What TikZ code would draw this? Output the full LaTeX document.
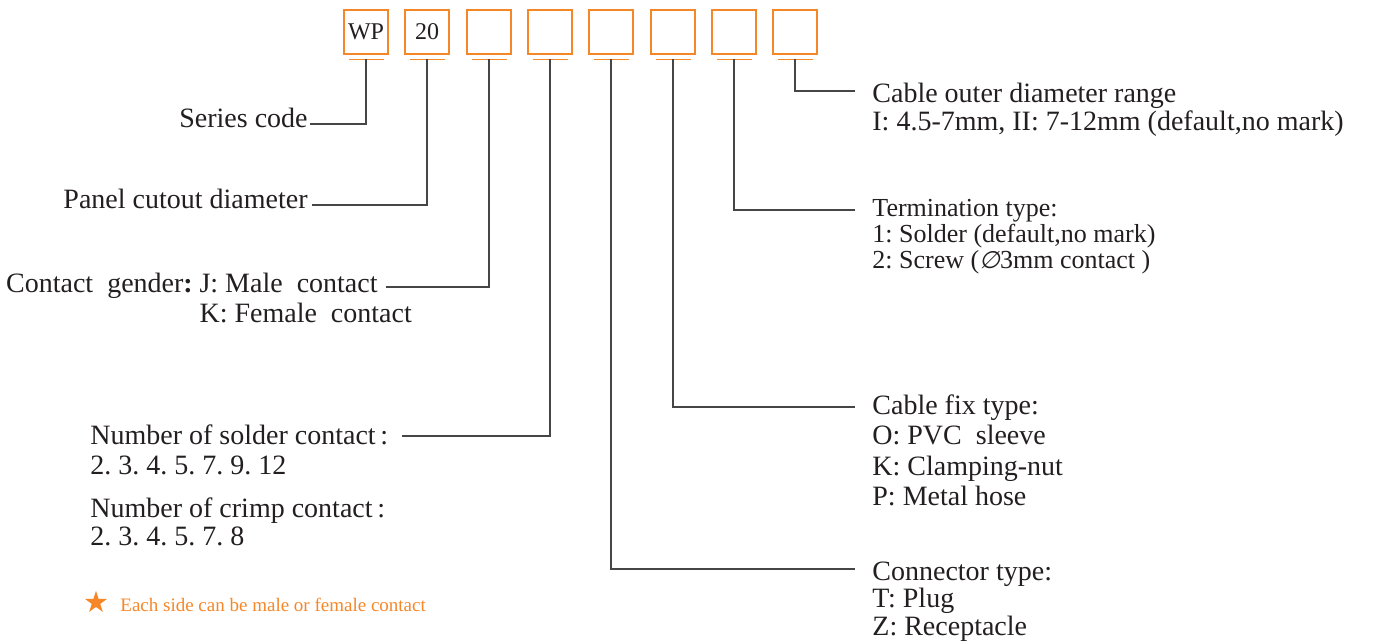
\documentclass[tikz,border=0pt]{standalone}
\usepackage{fontspec}
\setmainfont{Liberation Serif}
\newfontfamily\symfont[FakeSlant=0.2]{DejaVu Sans}
\usepackage{tikz}
\usetikzlibrary{positioning,shapes.geometric}
\definecolor{codeorange}{RGB}{245,135,40}
\definecolor{leadgray}{RGB}{70,70,70}
\definecolor{textdark}{RGB}{35,31,32}
\frenchspacing

\begin{document}
\begin{tikzpicture}[x=0.5pt,y=-0.5pt,
    every node/.style={font=\fontsize{14}{15}\selectfont,text=textdark,inner sep=0pt},
    codebox/.style={draw=codeorange,line width=0.7pt,minimum size=22pt,
                    font=\fontsize{12}{13}\selectfont},
    uline/.style={codeorange,line width=0.6pt},
    lead/.style={leadgray,line width=0.6pt},
    lbl/.style={anchor=base east},
    rlbl/.style={anchor=base west},
    tight/.style={font=\fontsize{13}{14}\selectfont,text height=7pt,text depth=1pt}]

  \useasboundingbox (0,0) rectangle (1377,643);

  % Code boxes (top)
  \node[codebox] (wp)     at (366,32) {WP};
  \node[codebox] (size)   at (427,32) {20};
  \node[codebox] (gender) at (489,32) {};
  \node[codebox] (pins)   at (550,32) {};
  \node[codebox] (conn)   at (611,32) {};
  \node[codebox] (fix)    at (673,32) {};
  \node[codebox] (term)   at (734,32) {};
  \node[codebox] (dia)    at (795,32) {};
  \foreach \b in {wp,size,gender,pins,conn,fix,term,dia}
    \draw[uline] ([xshift=-8.75pt,yshift=-2.25pt]\b.south) -- ([xshift=8.75pt,yshift=-2.25pt]\b.south);

  % Left labels
  \node[lbl] (serieslbl) at (308,127) {Series code};
  \node[lbl] (panellbl)  at (308,208) {Panel cutout diameter};
  \node[lbl] (malelbl)   at (378,292) {J: Male\ \ contact};
  \node[anchor=base east] (genderlbl) at ([xshift=-3pt]malelbl.base west) {Contact\ \ gender\textbf{:}};
  \node[anchor=base west] (femalelbl) at ([yshift=-15pt]malelbl.base west) {K: Female\ \ contact};

  \node[rlbl] (solderlbl) at (90,444) {Number of solder contact\,:};
  \node[rlbl] (solderval) at (90,474) {2. 3. 4. 5. 7. 9. 12};
  \node[rlbl] (crimplbl)  at (90,517) {Number of crimp contact\,:};
  \node[rlbl] (crimpval)  at (90,545) {2. 3. 4. 5. 7. 8};

  % Right labels
  \node[rlbl] (dialbl) at (872,102) {Cable outer diameter range};
  \node[rlbl] (diaval) at (872,130) {I: 4.5-7mm, II: 7-12mm (default,no mark)};

  \node[rlbl,tight] (termlbl)  at (872,216) {Termination type:};
  \node[rlbl,tight] (termone)  at (872,242) {1: Solder (default,no mark)};
  \node[rlbl,tight] (termtwo)  at (872,268) {2: Screw ({\symfont\fontsize{12}{13}\selectfont ∅}3mm contact )};

  \node[rlbl] (fixlbl)  at (872,414) {Cable fix type:};
  \node[rlbl] (fixo)    at (872,444) {O: PVC\ \ sleeve};
  \node[rlbl] (fixk)    at (872,475) {K: Clamping-nut};
  \node[rlbl] (fixp)    at (872,505) {P: Metal hose};

  \node[rlbl] (connlbl) at (872,580) {Connector type:};
  \node[rlbl] (connt)   at (872,607) {T: Plug};
  \node[rlbl] (connz)   at (872,635) {Z: Receptacle};

  % Leader lines
  \draw[lead] ([yshift=-2.25pt]wp.south)     |- ([xshift=1pt,yshift=1.5pt]serieslbl.base east);
  \draw[lead] ([yshift=-2.25pt]size.south)   |- ([xshift=2pt,yshift=1.5pt]panellbl.base east);
  \draw[lead] ([yshift=-2.25pt]gender.south) |- ([xshift=4pt,yshift=2.5pt]malelbl.base east);
  \draw[lead] ([yshift=-2.25pt]pins.south)   |- ([xshift=6.5pt,yshift=4pt]solderlbl.base east);
  \draw[lead] ([yshift=-2.25pt]conn.south)   |- ([xshift=-8.5pt,yshift=5.5pt]connlbl.base west);
  \draw[lead] ([yshift=-2.25pt]fix.south)    |- ([xshift=-8.5pt,yshift=3.5pt]fixlbl.base west);
  \draw[lead] ([yshift=-2.25pt]term.south)   |- ([xshift=-8.5pt,yshift=3pt]termlbl.base west);
  \draw[lead] ([yshift=-2.25pt]dia.south)    |- ([xshift=-8.5pt,yshift=5.5pt]dialbl.base west);

  % Note
  \node[star,star points=5,star point ratio=2.6,fill=codeorange,minimum size=11.6pt] (starmark) at (96,602.5) {};
  \node[rlbl,font=\fontsize{9.5}{11}\selectfont,text=codeorange] (note) at (120,611)
    {Each side can be male or female contact};

\end{tikzpicture}
\end{document}
